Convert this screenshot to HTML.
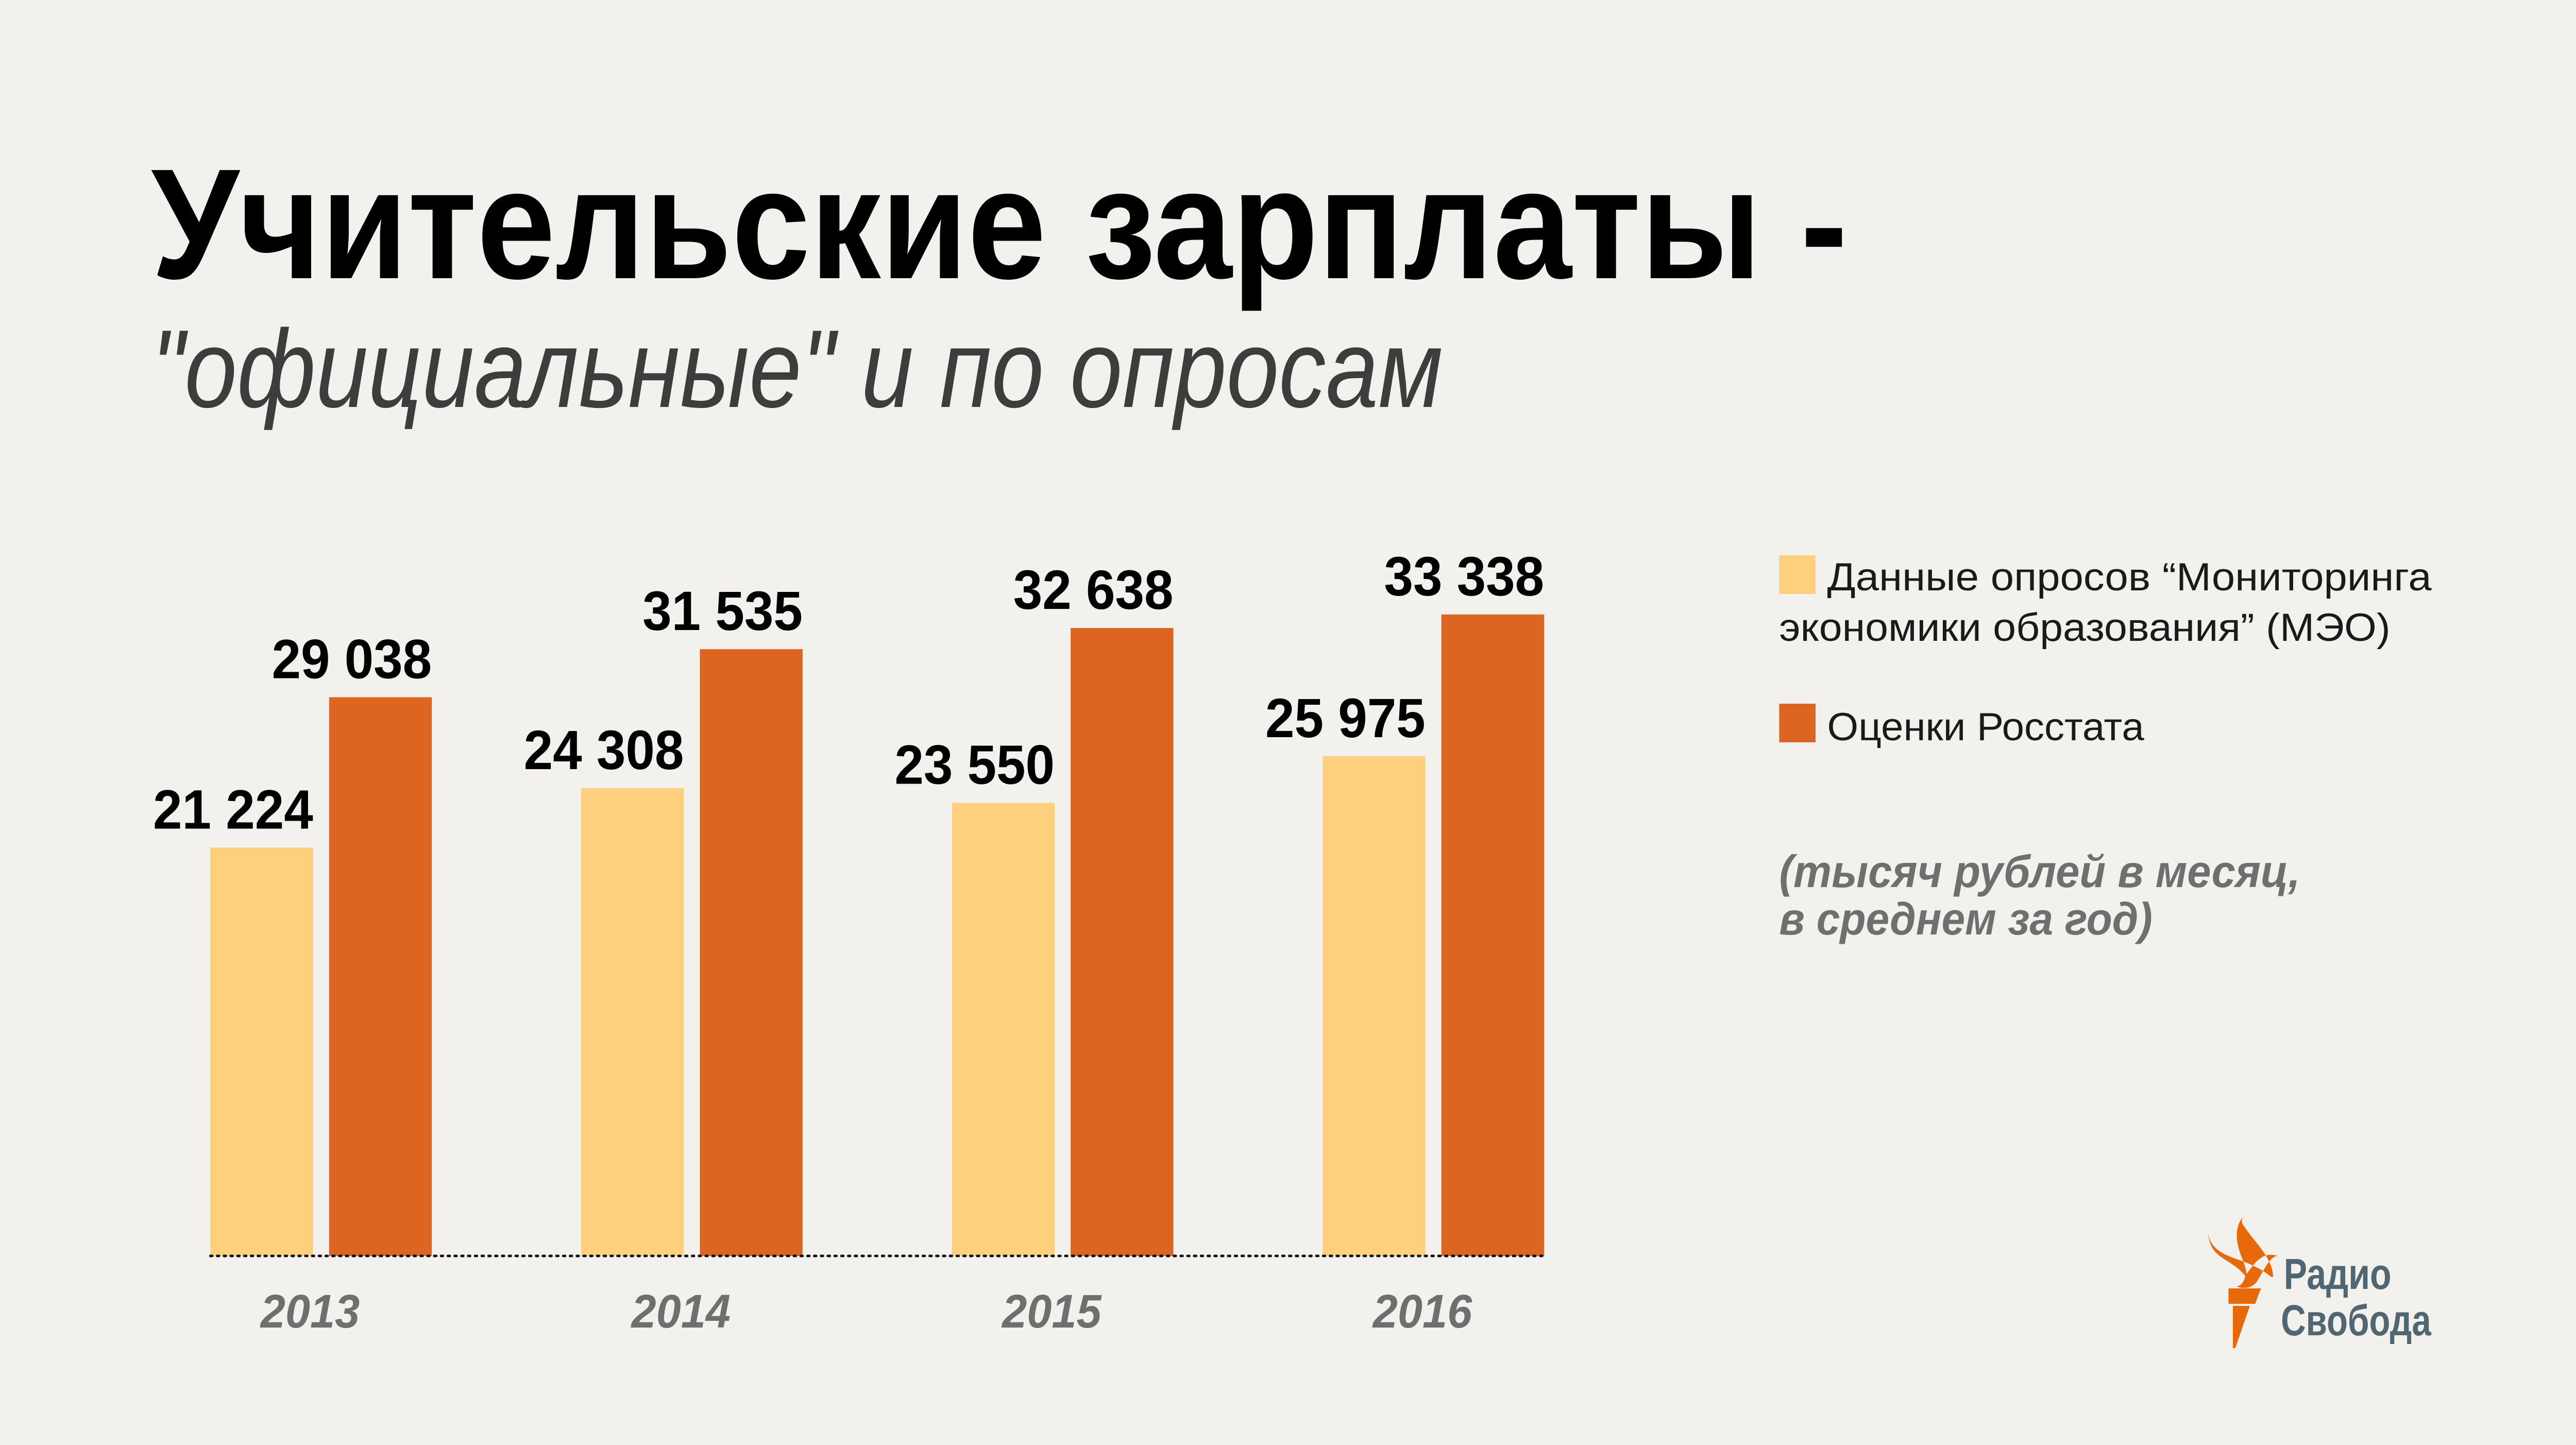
<!DOCTYPE html>
<html><head><meta charset="utf-8"><style>
html,body{margin:0;padding:0;background:#f2f1ed;overflow:hidden;width:100%;height:100%;}
svg{display:block;width:100vw;height:100vh;font-family:"Liberation Sans","DejaVu Sans",sans-serif;}
</style></head><body>
<svg id="chart" viewBox="0 0 5315 2805" preserveAspectRatio="none" xmlns="http://www.w3.org/2000/svg">
<rect x="0" y="0" width="5315" height="2805" fill="#f2f1ed"/>
<text x="312" y="540" font-size="305" font-weight="bold" fill="#000" textLength="3500" lengthAdjust="spacingAndGlyphs">Учительские зарплаты -</text>
<text x="312" y="790" font-size="215" font-style="italic" fill="#3d3d3d" textLength="2665" lengthAdjust="spacingAndGlyphs">"официальные" и по опросам</text>
<g id="bars"></g>
<g>
<rect x="3671" y="1078" width="75" height="75" fill="#fed07d"/>
<text x="3770" y="1146" font-size="76" fill="#1a1a1a" textLength="1247" lengthAdjust="spacingAndGlyphs">Данные опросов “Мониторинга</text>
<text x="3671" y="1244" font-size="76" fill="#1a1a1a" textLength="1261" lengthAdjust="spacingAndGlyphs">экономики образования” (МЭО)</text>
<rect x="3671" y="1366" width="75" height="75" fill="#dc6522"/>
<text x="3770" y="1437" font-size="76" fill="#1a1a1a" textLength="654" lengthAdjust="spacingAndGlyphs">Оценки Росстата</text>
</g>
<text x="3671" y="1722" font-size="88" font-weight="bold" font-style="italic" fill="#6f6f6f" textLength="1075" lengthAdjust="spacingAndGlyphs">(тысяч рублей в месяц,</text>
<text x="3671" y="1814" font-size="88" font-weight="bold" font-style="italic" fill="#6f6f6f" textLength="770" lengthAdjust="spacingAndGlyphs">в среднем за год)</text>
<g>
<path fill="#e8690a" d="M4556,2393 C4562,2440 4620,2440 4655,2460 C4680,2470 4688,2485 4690,2477 C4688,2440 4650,2410 4630,2380 C4620,2370 4630,2360 4630,2360 C4610,2380 4612,2410 4625,2440 C4640,2475 4635,2480 4632,2476 C4600,2440 4560,2445 4556,2393 Z M4633,2476 C4650,2455 4665,2430 4695,2437 C4700,2437 4701,2437 4701,2437 C4680,2440 4670,2470 4655,2490 C4640,2505 4620,2500 4615,2497 C4628,2495 4630,2485 4633,2476 Z"/>
<polygon fill="#e8690a" points="4598,2501 4665,2501 4653,2531 4598,2531"/>
<polygon fill="#e8690a" points="4607,2535 4642,2535 4612,2617 4607,2617"/>
<text x="4712" y="2502" font-size="84" font-weight="bold" fill="#506673" textLength="222" lengthAdjust="spacingAndGlyphs">Радио</text>
<text x="4706" y="2592" font-size="84" font-weight="bold" fill="#506673" textLength="310" lengthAdjust="spacingAndGlyphs">Свобода</text>
</g>
</svg>
<script>
const years = ["2013", "2014", "2015", "2016"];
const surveyValues = [21224, 24308, 23550, 25975];
const rosstatValues = [29038, 31535, 32638, 33338];

const NS = "http://www.w3.org/2000/svg";
const g = document.getElementById("bars");
const baseY = 2438, pxPerUnit = 0.03735;
const x0 = 434, groupStep = 765, barW = 212, barGap = 33;
function yScale(v){ return baseY - v * pxPerUnit; }
function fmt(v){ const s = String(v); return s.length > 3 ? s.slice(0, s.length-3) + " " + s.slice(-3) : s; }

const base = document.createElementNS(NS, "line");


base.setAttribute("x1", x0); base.setAttribute("x2", x0 + groupStep*(years.length-1) + 2*barW + barGap);
base.setAttribute("y1", baseY); base.setAttribute("y2", baseY);
base.setAttribute("stroke", "#111"); base.setAttribute("stroke-width", "5");
base.setAttribute("stroke-dasharray", "4 10"); base.setAttribute("stroke-linecap", "round");

function addBar(x, v, color, name, labelName){
  const r = document.createElementNS(NS, "rect");
  
  
  r.setAttribute("x", x); r.setAttribute("y", yScale(v));
  r.setAttribute("width", barW); r.setAttribute("height", baseY - yScale(v));
  r.setAttribute("fill", color);
  g.appendChild(r);
  const t = document.createElementNS(NS, "text");
  
  
  t.setAttribute("x", x + barW); t.setAttribute("y", yScale(v) - 37);
  t.setAttribute("text-anchor", "end"); t.setAttribute("font-size", "108");
  t.setAttribute("font-weight", "bold"); t.setAttribute("fill", "#000");
  t.textContent = fmt(v);
  g.appendChild(t);
}
years.forEach((yr, i) => {
  const gx = x0 + groupStep * i;
  addBar(gx, surveyValues[i], "#fed07d", "bar-survey-" + yr, "value-label-survey-" + yr);
  addBar(gx + barW + barGap, rosstatValues[i], "#dc6522", "bar-rosstat-" + yr, "value-label-rosstat-" + yr);
  const t = document.createElementNS(NS, "text");
  
  
  t.setAttribute("x", gx + 206); t.setAttribute("y", 2577);
  t.setAttribute("text-anchor", "middle"); t.setAttribute("font-size", "92");
  t.setAttribute("font-weight", "bold"); t.setAttribute("font-style", "italic");
  t.setAttribute("fill", "#6f6f6f");
  t.textContent = yr;
  g.appendChild(t);
});
g.appendChild(base);
</script>
</body></html>
